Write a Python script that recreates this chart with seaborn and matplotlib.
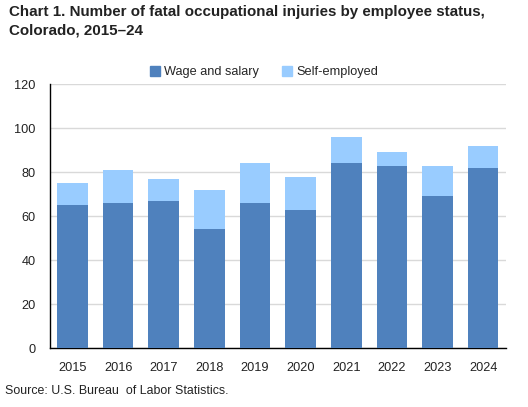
import matplotlib
matplotlib.use("Agg")
import matplotlib.pyplot as plt
import seaborn as sns
import pandas as pd
from matplotlib.patches import Patch

years = ["2015", "2016", "2017", "2018", "2019", "2020", "2021", "2022", "2023", "2024"]
wage_salary = [65, 66, 67, 54, 66, 63, 84, 83, 69, 82]
self_employed = [10, 15, 10, 18, 18, 15, 12, 6, 14, 10]

title = "Chart 1. Number of fatal occupational injuries by employee status,\nColorado, 2015\u201324"
source = "Source: U.S. Bureau  of Labor Statistics."

sns.set_theme(style="white")
plt.rcParams["font.family"] = ["Liberation Sans", "DejaVu Sans"]

df = pd.DataFrame({"year": years, "wage": wage_salary, "self": self_employed})
df["total"] = df["wage"] + df["self"]

wage_color = "#4F81BD"
self_color = "#99CCFF"

fig = plt.figure(figsize=(5.28, 4.07), dpi=100)
ax = fig.add_axes([49.7 / 528, 1 - 348.3 / 407, (506 - 49.7) / 528, (348.3 - 84.3) / 407])

sns.barplot(data=df, x="year", y="total", color=self_color, width=0.67, ax=ax,
            saturation=1, linewidth=0, zorder=2)
sns.barplot(data=df, x="year", y="wage", color=wage_color, width=0.67, ax=ax,
            saturation=1, linewidth=0, zorder=3)

ax.set_ylim(0, 120)
ax.set_yticks(range(0, 121, 20))
ax.set_xlim(-0.5, len(years) - 0.5)
ax.set_xlabel("")
ax.set_ylabel("")
ax.yaxis.grid(True, color="#D9D9D9", linewidth=1, zorder=0)
ax.set_axisbelow(True)
for s in ["top", "right"]:
    ax.spines[s].set_visible(False)
for s in ["left", "bottom"]:
    ax.spines[s].set_color("black")
    ax.spines[s].set_linewidth(1)
ax.tick_params(axis="y", length=0, labelsize=9.2, colors="#222222", pad=10)
ax.tick_params(axis="x", length=0, labelsize=9.2, colors="#222222", pad=10)

handles = [Patch(color=wage_color, label="Wage and salary"),
           Patch(color=self_color, label="Self-employed")]
fig.legend(handles=handles, loc="center", bbox_to_anchor=(0.5, 1 - 72 / 407), ncol=2,
           frameon=False, fontsize=9.2, handlelength=0.8, handleheight=0.8,
           handletextpad=0.3, columnspacing=1.8)

fig.text(9 / 528, 1 - 5 / 407, title, ha="left", va="top", fontsize=10.9,
         fontweight="bold", color="#222222", linespacing=1.45)
fig.text(5 / 528, 1 - 391 / 407, source, ha="left", va="center", fontsize=8.9,
         color="#222222")

fig.savefig("out.png", dpi=100)
